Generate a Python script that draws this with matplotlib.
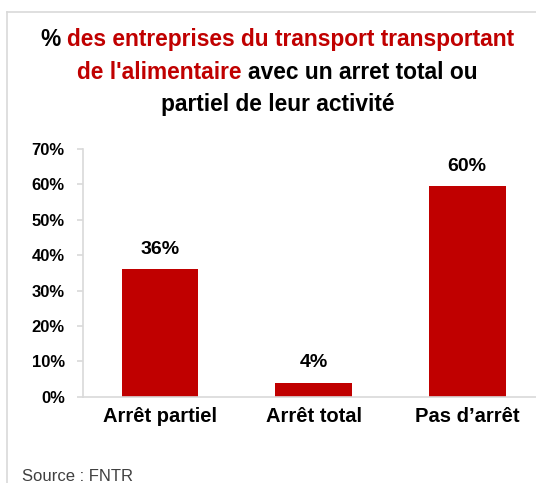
import matplotlib
matplotlib.use("Agg")
import matplotlib.pyplot as plt
from matplotlib.lines import Line2D

plt.rcParams["font.family"] = ["Liberation Sans", "DejaVu Sans"]

categories = ["Arrêt partiel", "Arrêt total", "Pas d’arrêt"]
values = [0.36, 0.04, 0.595]
value_labels = ["36%", "4%", "60%"]
yticks = [0.0, 0.1, 0.2, 0.3, 0.4, 0.5, 0.6, 0.7]

RED = "#C00000"
GRAY = "#D9D9D9"
W, H = 536, 483

fig = plt.figure(figsize=(W / 100, H / 100), dpi=100)

# chart frame (cut on the right and at the bottom)
fig.add_artist(Line2D([7 / W, 7 / W], [0, 1 - 12 / H], color=GRAY, lw=1.2, transform=fig.transFigure))
fig.add_artist(Line2D([7 / W, 1], [1 - 12 / H, 1 - 12 / H], color=GRAY, lw=1.2, transform=fig.transFigure))

ax = fig.add_axes([83.3 / W, 1 - 396.7 / H, (544 - 83.3) / W, (396.7 - 149) / H])
x = range(len(categories))
ax.bar(x, values, width=0.5, color=RED)
ax.set_xlim(-0.5, 2.5)
ax.set_ylim(0, 0.7)
ax.set_yticks(yticks)
ax.set_yticklabels(["%d%%" % round(v * 100) for v in yticks], fontsize=12, fontweight="bold")
ax.set_xticks(list(x))
ax.set_xticklabels(categories, fontsize=14.5, fontweight="bold")
for s in ["top", "right"]:
    ax.spines[s].set_visible(False)
for s in ["left", "bottom"]:
    ax.spines[s].set_color(GRAY)
    ax.spines[s].set_linewidth(1.2)
ax.tick_params(axis="y", length=4.3, color=GRAY, width=1.2, pad=9)
ax.tick_params(axis="x", length=0, pad=7.5)

for i, v in enumerate(values):
    ax.annotate(value_labels[i], (i, v), xytext=(0, 11), textcoords="offset points",
                ha="center", va="baseline", fontsize=14, fontweight="bold")

# title with mixed colours
title_lines = [
    [("%", "black"), ("des entreprises du transport transportant", RED)],
    [("de l'alimentaire", RED), ("avec un arret total ou", "black")],
    [("partiel de leur activité", "black")],
]
baselines = [46, 79, 111]
r = fig.canvas.get_renderer()
tsize = 16.4
t1 = fig.text(0, 0, "a a", fontsize=tsize, fontweight="bold")
t2 = fig.text(0, 0, "aa", fontsize=tsize, fontweight="bold")
space = t1.get_window_extent(r).width - t2.get_window_extent(r).width
t1.remove()
t2.remove()
cx = 277.5
for segs, yb in zip(title_lines, baselines):
    texts = [fig.text(0, 1 - yb / H, s, color=c, fontsize=tsize, fontweight="bold", va="baseline")
             for s, c in segs]
    widths = [t.get_window_extent(r).width for t in texts]
    total = sum(widths) + space * (len(widths) - 1)
    xpos = cx - total / 2
    for t, w in zip(texts, widths):
        t.set_x(xpos / W)
        xpos += w + space

fig.text(22 / W, 1 - 481 / H, "Source : FNTR", fontsize=12, color="#404040", va="baseline")

fig.savefig("out.png", dpi=100)
